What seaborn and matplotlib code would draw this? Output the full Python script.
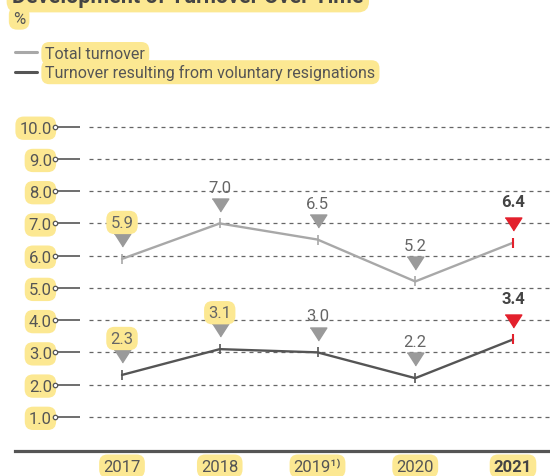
import matplotlib
matplotlib.use('Agg')
import matplotlib.pyplot as plt
import seaborn as sns
import pandas as pd

# data
years = ['2017', '2018', '2019¹⁾', '2020', '2021']
total_turnover = [5.9, 7.0, 6.5, 5.2, 6.4]
voluntary_turnover = [2.3, 3.1, 3.0, 2.2, 3.4]
series_names = ['Total turnover', 'Turnover resulting from voluntary resignations']
y_ticks = [1.0, 2.0, 3.0, 4.0, 5.0, 6.0, 7.0, 8.0, 9.0, 10.0]
title = 'Development of Turnover Over Time'
unit = '%'
highlighted_values = {(0, 0), (1, 0), (1, 1)}  # (series, year) labels with yellow marker

sns.set_theme(style='white')
plt.rcParams['font.family'] = ['Roboto', 'DejaVu Sans']

HL = '#fce892'
TXT = '#555555'
LIGHT = '#a8a8a8'
DARK = '#555555'
RED = '#e3202c'
TRI = '#9a9a9a'
hl_box = dict(boxstyle='round,pad=0.25,rounding_size=0.5', fc=HL, ec='none')

df = pd.DataFrame({
    'x': list(range(len(years))) * 2,
    'value': total_turnover + voluntary_turnover,
    'series': [series_names[0]] * len(years) + [series_names[1]] * len(years),
})

fig = plt.figure(figsize=(5.5, 4.77), dpi=100)
W, H = 550, 477
ax = fig.add_axes([15 / W, (H - 452) / H, (W - 15) / W, (452 - 100) / H])

x0, step = 122, 97.75
def px(x):
    return (x - x0) / step

ax.set_xlim(px(15), px(W))
ax.set_ylim(-0.06, 10.86)

# grid and tick decorations
ax.hlines(y_ticks, px(89), px(W), colors='#666666', lw=0.9, linestyles=(0, (3.2, 3.2)))
ax.hlines(y_ticks, px(57), px(80), colors=DARK, lw=1.2)
ax.plot([px(55)] * len(y_ticks), y_ticks, 'o', ms=3.2, mfc='white', mec=DARK, mew=0.9)

sns.lineplot(data=df, x='x', y='value', hue='series', palette=[LIGHT, DARK],
             lw=1.7, legend=False, ax=ax)

for si, vals in enumerate([total_turnover, voluntary_turnover]):
    col = [LIGHT, DARK][si]
    for i, v in enumerate(vals):
        last = i == len(vals) - 1
        ax.plot(i, v, '|', color=RED if last else col, ms=7, mew=1.5 if last else 1.2)
        ax.plot(i, v + 0.58, marker=[(-1, 0.78), (1, 0.78), (0, -0.78)],
                color=RED if last else TRI, ms=12, ls='none')
        t = ax.text(i, v + (1.27 if last else 1.13), f'{v:.1f}', ha='center', va='center',
                    fontsize=12, color='#444444' if last else '#666666',
                    fontweight='bold' if last else 'normal')
        if (si, i) in highlighted_values:
            t.set_bbox(hl_box)

ax.set_yticks(y_ticks, [f'{t:.1f}' for t in y_ticks])
ax.set_xticks(range(len(years)), years)
ax.tick_params(axis='y', length=0, pad=-26.6, labelsize=12, labelcolor=TXT)
ax.tick_params(axis='x', length=0, pad=5.5, labelsize=12, labelcolor=TXT)
for lab in ax.get_yticklabels() + ax.get_xticklabels():
    lab.set_bbox(hl_box)
ax.get_xticklabels()[-1].set_fontweight('bold')
ax.get_xticklabels()[-1].set_color('#444444')

for s in ['left', 'right', 'top']:
    ax.spines[s].set_visible(False)
ax.spines['bottom'].set_color(DARK)
ax.spines['bottom'].set_linewidth(2.3)
ax.set_xlabel('')
ax.set_ylabel('')

# legend
handles = [plt.Line2D([], [], color=LIGHT, lw=2.2), plt.Line2D([], [], color=DARK, lw=2.2)]
leg = fig.legend(handles, series_names, loc='upper left', bbox_to_anchor=(15 / W, 1 - 47 / H),
                 frameon=False, borderpad=0, borderaxespad=0, handlelength=1.4,
                 handletextpad=0.5, labelspacing=0.2, fontsize=11.5)
for t in leg.get_texts():
    t.set_color(TXT)
    t.set_bbox(hl_box)

fig.text(12 / W, 1 - 3 / H, title, fontsize=15.5, fontweight='bold', color='#444444',
         va='baseline', ha='left', bbox=hl_box)
fig.text(13 / W, 1 - 19 / H, unit, fontsize=12, color=TXT, va='center', ha='left', bbox=hl_box)

fig.savefig('out.png', dpi=100)
